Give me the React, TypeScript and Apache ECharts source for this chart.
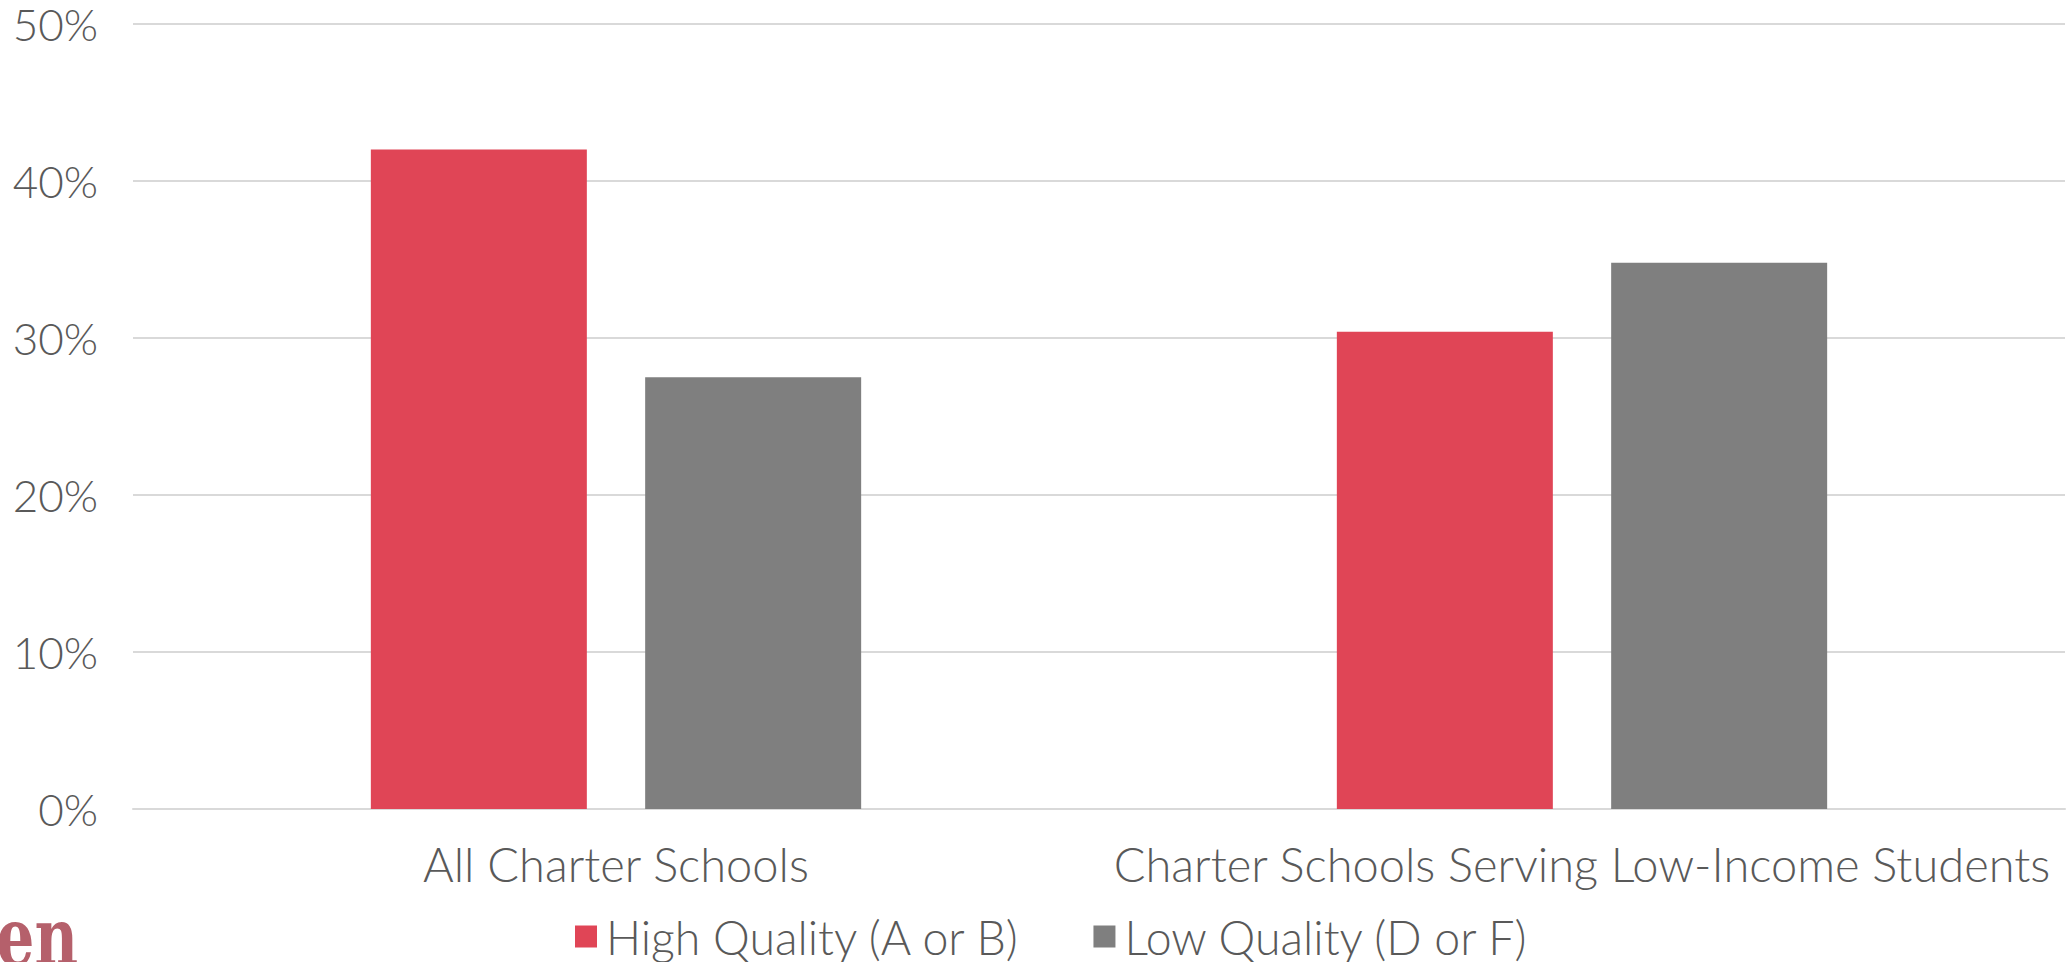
import React, { useEffect, useRef } from "react";
import * as echarts from "echarts";

const categories = ["All Charter Schools", "Charter Schools Serving Low-Income Students"];
const seriesNames = ["High Quality (A or B)", "Low Quality (D or F)"];
const highQuality = [42.0, 30.4];
const lowQuality = [27.5, 34.8];
const yTicks = [0, 10, 20, 30, 40, 50];

const FONT = "Lato, 'Noto Sans', sans-serif";
const TEXT = "#595959";

export default function App() {
  const ref = useRef<HTMLDivElement>(null);
  useEffect(() => {
    if (!ref.current) return;
    const chart = echarts.init(ref.current, null, { renderer: "svg" });
    chart.setOption({
      animation: false,
      backgroundColor: "#ffffff",
      textStyle: { fontFamily: FONT },
      grid: { left: 133, right: 4, top: 24, bottom: 153, containLabel: false },
      legend: {
        data: seriesNames,
        top: 910,
        left: 570,
        padding: [3, 5, 3, 5],
        itemWidth: 22,
        itemHeight: 22,
        itemGap: 72,
        icon: "rect",
        textStyle: {
          fontSize: 46.5,
          lineHeight: 44,
          color: TEXT,
          fontFamily: FONT,
          fontWeight: 300,
          padding: [0, 0, 0, 4],
        },
      },
      xAxis: {
        type: "category",
        data: categories,
        axisTick: { show: false },
        axisLine: { show: true, lineStyle: { color: "#d9d9d9", width: 2 } },
        axisLabel: { fontSize: 47, color: TEXT, margin: 31, fontFamily: FONT, fontWeight: 300, interval: 0 },
      },
      yAxis: {
        type: "value",
        min: yTicks[0],
        max: yTicks[yTicks.length - 1],
        interval: 10,
        axisLine: { show: false },
        axisTick: { show: false },
        splitLine: { lineStyle: { color: "#d9d9d9", width: 2 } },
        axisLabel: {
          fontSize: 44,
          lineHeight: 44,
          color: TEXT,
          margin: 35,
          formatter: "{value}%",
          fontFamily: FONT,
          fontWeight: 300,
        },
      },
      graphic: [
        {
          type: "text",
          x: 78,
          y: 937,
          scaleX: 0.75,
          style: {
            text: "en",
            fontSize: 80,
            fontFamily: "'DejaVu Serif', serif",
            fontWeight: "bold",
            fill: "#B5606B",
            align: "right",
            verticalAlign: "middle",
          },
        },
      ],
      series: [
        {
          name: seriesNames[0],
          type: "bar",
          data: highQuality,
          barWidth: 216,
          barGap: "27%",
          itemStyle: { color: "#E04556" },
        },
        {
          name: seriesNames[1],
          type: "bar",
          data: lowQuality,
          barWidth: 216,
          barGap: "27%",
          itemStyle: { color: "#7F7F7F" },
        },
      ],
    });
    return () => chart.dispose();
  }, []);
  return <div ref={ref} style={{ position: "fixed", left: 0, top: 0, width: 2069, height: 962 }} />;
}
